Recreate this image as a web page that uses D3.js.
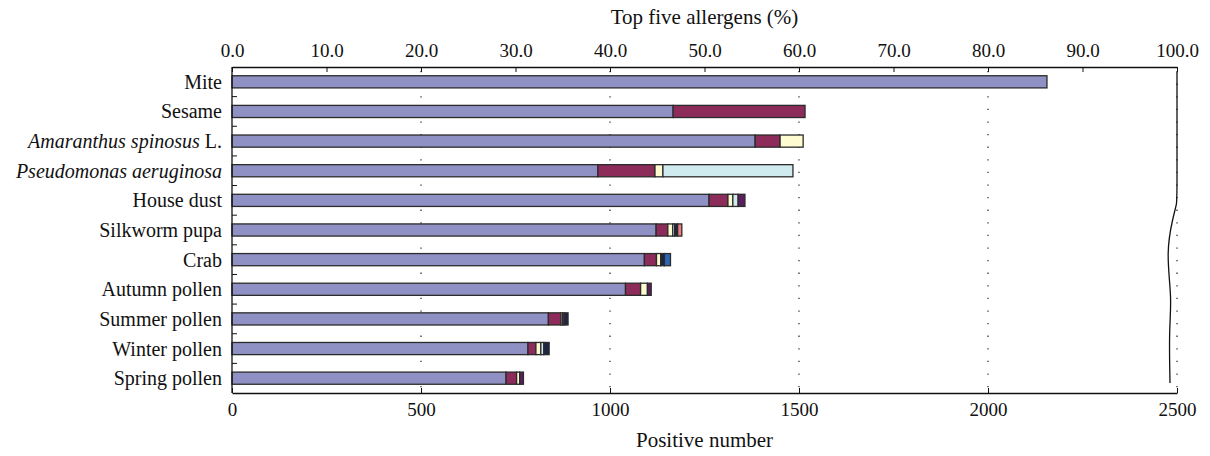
<!DOCTYPE html>
<html>
<head>
<meta charset="utf-8">
<script src="https://cdn.jsdelivr.net/npm/d3@7"></script>
<style>
  html, body { margin: 0; padding: 0; background: #fff; }
  svg text { font-family: "Liberation Serif", "Tinos", "DejaVu Serif", serif; fill: #111; }
</style>
</head>
<body>
<svg id="chart" width="1210" height="456"></svg>
<script>
// Allergen categories, top to bottom
const categories = ["Mite", "Sesame", "Amaranthus spinosus L.", "Pseudomonas aeruginosa",
  "House dust", "Silkworm pupa", "Crab", "Autumn pollen", "Summer pollen",
  "Winter pollen", "Spring pollen"];
// Italic part of each label (species names)
const italicParts = ["", "", "Amaranthus spinosus", "Pseudomonas aeruginosa",
  "", "", "", "", "", "", ""];

// Stacked segments (positive number), one array per segment colour
const segPurple     = [2156, 1167, 1384, 968, 1262, 1122, 1091, 1041, 837, 783, 725];
const segMaroon     = [0, 349, 66, 151, 50, 31, 32, 40, 33, 21, 28];
const segCream      = [0, 0, 61, 21, 13, 13, 11, 18, 4, 13, 8];
const segLightBlue  = [0, 0, 0, 344, 14, 5, 0, 0, 0, 8, 0];
const segDarkPurple = [0, 0, 0, 0, 18, 0, 0, 10, 6, 0, 10];
const segNavy       = [0, 0, 0, 0, 0, 8, 10, 0, 9, 14, 0];
const segBlue       = [0, 0, 0, 0, 0, 0, 16, 0, 0, 0, 0];
const segSalmon     = [0, 0, 0, 0, 0, 11, 0, 0, 0, 0, 0];

// Axis ticks
const countTicks = [0, 500, 1000, 1500, 2000, 2500];
const percentTicks = [0, 10, 20, 30, 40, 50, 60, 70, 80, 90, 100];

const seriesKeys = ["purple", "maroon", "cream", "lightBlue", "darkPurple", "navy", "blue", "salmon"];
const seriesValues = [segPurple, segMaroon, segCream, segLightBlue, segDarkPurple, segNavy, segBlue, segSalmon];
const seriesColors = {
  purple: "#8f90c4", maroon: "#8d2b5b", cream: "#fdfbcf", lightBlue: "#cfebef",
  darkPurple: "#5c1e5e", navy: "#1c2542", blue: "#2a66b2", salmon: "#ef7f7f"
};

const rows = categories.map((c, i) => {
  const r = { category: c };
  seriesKeys.forEach((k, j) => { r[k] = seriesValues[j][i]; });
  return r;
});

const FONT = '"Liberation Serif", "Tinos", "DejaVu Serif", serif';
const svg = d3.select("#chart");
const plotLeft = 232, plotRight = 1177, plotTop = 67, plotBottom = 393;

const x = d3.scaleLinear().domain([0, 2500]).range([plotLeft, plotRight]);
const xPct = d3.scaleLinear().domain([0, 100]).range([plotLeft, plotRight]);
const y = d3.scaleBand().domain(categories).range([plotTop, plotBottom]).padding(0);
const barH = y.bandwidth() * 0.41;

// Dotted vertical gridlines
svg.append("g").selectAll("line")
  .data(countTicks.filter(d => d > 0))
  .join("line")
  .attr("x1", d => x(d)).attr("x2", d => x(d))
  .attr("y1", plotTop + 4).attr("y2", plotBottom - 2)
  .attr("stroke", "#222").attr("stroke-width", 1.2)
  .attr("stroke-dasharray", "1.3,11.3");

// Stacked bars
const stacked = d3.stack().keys(seriesKeys)(rows);
svg.append("g").selectAll("g")
  .data(stacked)
  .join("g")
  .attr("fill", d => seriesColors[d.key])
  .selectAll("rect")
  .data(d => d.filter(s => s[1] - s[0] > 0))
  .join("rect")
  .attr("x", d => x(d[0]))
  .attr("width", d => x(d[1]) - x(d[0]))
  .attr("y", d => y(d.data.category) + (y.bandwidth() - barH) / 2)
  .attr("height", barH)
  .attr("stroke", "#2b2b2b").attr("stroke-width", 1.3);

// Bottom axis: positive number
const xAxis = d3.axisBottom(x).tickValues(countTicks).tickSizeInner(-5).tickSizeOuter(0).tickPadding(10)
  .tickFormat(d3.format("d"));
const gx = svg.append("g").attr("transform", `translate(0,${plotBottom})`).call(xAxis)
  .attr("font-family", FONT).attr("font-size", 19);
gx.select(".domain").attr("stroke", "#111").attr("stroke-width", 1.3);
gx.selectAll(".tick line").attr("stroke", "#111").attr("stroke-width", 1);
gx.selectAll(".tick text").attr("fill", "#111");

// Top axis: percentage
const xTop = d3.axisTop(xPct).tickValues(percentTicks).tickSizeInner(-5).tickSizeOuter(0).tickPadding(10)
  .tickFormat(d3.format(".1f"));
const gt = svg.append("g").attr("transform", `translate(0,${plotTop})`).call(xTop)
  .attr("font-family", FONT).attr("font-size", 19);
gt.select(".domain").attr("stroke", "#111").attr("stroke-width", 1.3);
gt.selectAll(".tick line").attr("stroke", "#111").attr("stroke-width", 1);
gt.selectAll(".tick text").attr("fill", "#111");

// Left axis line with ticks between categories
svg.append("line").attr("x1", plotLeft).attr("x2", plotLeft).attr("y1", plotTop).attr("y2", plotBottom)
  .attr("stroke", "#111").attr("stroke-width", 1.3);
svg.append("g").selectAll("line")
  .data(categories.slice(1))
  .join("line")
  .attr("x1", plotLeft).attr("x2", plotLeft + 5)
  .attr("y1", d => y(d)).attr("y2", d => y(d))
  .attr("stroke", "#111").attr("stroke-width", 1);

// Category labels (species names in italics)
const labels = svg.append("g").attr("font-family", FONT).selectAll("text")
  .data(categories)
  .join("text")
  .attr("x", plotLeft - 10)
  .attr("y", d => y(d) + y.bandwidth() / 2)
  .attr("dy", "0.35em")
  .attr("text-anchor", "end")
  .attr("font-size", 20);
labels.each(function(d, i) {
  const t = d3.select(this);
  const it = italicParts[i];
  if (it) {
    t.append("tspan").attr("font-style", "italic").text(it);
    const rest = d.slice(it.length);
    if (rest) t.append("tspan").text(rest);
  } else {
    t.text(d);
  }
});

// Right edge: straight segment then a wavy break line
const breakLine = d3.line().curve(d3.curveBasis);
const bx = x(2500);
const breakPts = [[0, 5], [0, 130], [0, 136], [-4, 150], [-11, 185], [-5, 232], [-8, 262], [-7, 316]];
svg.append("path")
  .attr("d", breakLine(breakPts.map(p => [bx + p[0], plotTop + p[1]])))
  .attr("fill", "none").attr("stroke", "#111").attr("stroke-width", 1.3);

// Axis titles
svg.append("text").attr("x", (plotLeft + plotRight) / 2).attr("y", 24).attr("font-family", FONT)
  .attr("text-anchor", "middle").attr("font-size", 21).text("Top five allergens (%)");
svg.append("text").attr("x", (plotLeft + plotRight) / 2).attr("y", 447).attr("font-family", FONT)
  .attr("text-anchor", "middle").attr("font-size", 21).text("Positive number");
</script>
</body>
</html>
